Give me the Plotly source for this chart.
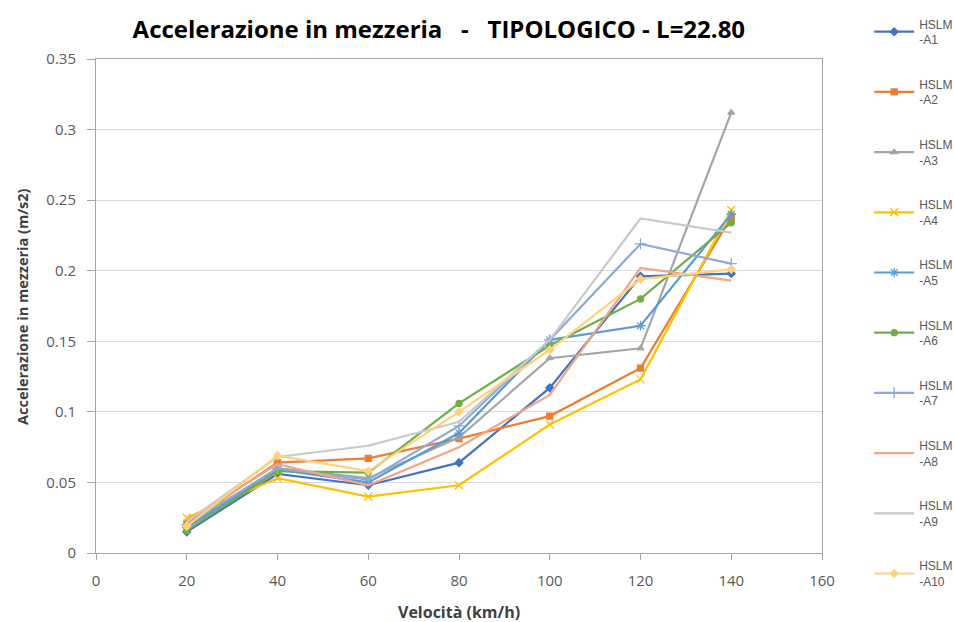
import plotly.graph_objects as go

# Velocità (km/h)
speeds = [20, 40, 60, 80, 100, 120, 140]

# Accelerazione in mezzeria (m/s2) per ciascun treno HSLM
a1 = [0.015, 0.056, 0.048, 0.064, 0.117, 0.196, 0.198]
a2 = [0.021, 0.064, 0.067, 0.081, 0.097, 0.131, 0.238]
a3 = [0.019, 0.060, 0.053, 0.082, 0.138, 0.145, 0.312]
a4 = [0.025, 0.053, 0.040, 0.048, 0.091, 0.123, 0.243]
a5 = [0.018, 0.059, 0.050, 0.085, 0.151, 0.161, 0.240]
a6 = [0.016, 0.058, 0.057, 0.106, 0.147, 0.180, 0.234]
a7 = [0.020, 0.060, 0.052, 0.090, 0.151, 0.219, 0.205]
a8 = [0.023, 0.063, 0.048, 0.075, 0.112, 0.202, 0.193]
a9 = [0.022, 0.068, 0.076, 0.093, 0.151, 0.237, 0.227]
a10 = [0.019, 0.069, 0.058, 0.100, 0.144, 0.194, 0.201]

names = ["HSLM<br>-A1", "HSLM<br>-A2", "HSLM<br>-A3", "HSLM<br>-A4", "HSLM<br>-A5",
         "HSLM<br>-A6", "HSLM<br>-A7", "HSLM<br>-A8", "HSLM<br>-A9", "HSLM<br>-A10"]
series = [a1, a2, a3, a4, a5, a6, a7, a8, a9, a10]

colors = ["#4472C4", "#ED7D31", "#A5A5A5", "#FFC000", "#5B9BD5",
          "#70AD47", "#8EA9DB", "#F4A582", "#C9C9C9", "#FFD27A"]
symbols = ["diamond", "square", "triangle-up", "x-thin-open", "asterisk-open",
           "circle", "cross-thin-open", None, None, "diamond"]
sizes = [6, 6, 6, 8, 8, 6, 8, 0, 0, 6]

yticks = [0, 0.05, 0.1, 0.15, 0.2, 0.25, 0.3, 0.35]
ytext = ["0", "0.05", "0.1", "0.15", "0.2", "0.25", "0.3", "0.35"]
xticks = [0, 20, 40, 60, 80, 100, 120, 140, 160]

fig = go.Figure()
for i, (nm, ys) in enumerate(zip(names, series)):
    marker = dict(color=colors[i], size=sizes[i])
    if symbols[i] is not None:
        marker["symbol"] = symbols[i]
        marker["line"] = dict(color=colors[i], width=1.3)
        mode = "lines+markers"
    else:
        mode = "lines"
    fig.add_trace(go.Scatter(
        x=speeds, y=ys, name=nm, mode=mode,
        line=dict(color=colors[i], width=2.2),
        marker=marker, legendgroup=f"g{i}",
    ))

axis_font = dict(family="Open Sans, sans-serif", size=15, color="#595959")
title_font = dict(family="Open Sans, sans-serif", color="#404040")

fig.update_layout(
    width=954, height=622,
    margin=dict(l=96, r=132, t=59, b=69, autoexpand=False),
    paper_bgcolor="white", plot_bgcolor="white",
    title=dict(text="<b>Accelerazione in mezzeria   -   TIPOLOGICO - L=22.80</b>",
               x=0.46, xanchor="center", y=0.952, yanchor="middle",
               font=dict(family="Open Sans, sans-serif", size=24, color="#000000")),
    legend=dict(x=1.065, xanchor="left", y=1.1, yanchor="top",
                tracegroupgap=26, itemwidth=40, maxheight=620,
                font=dict(family="Liberation Sans, Arial, sans-serif", size=12, color="#595959"),
                bgcolor="rgba(0,0,0,0)"),
    xaxis=dict(range=[0, 160], tickvals=xticks, showgrid=False, automargin=False,
               showline=True, linecolor="#A6A6A6", linewidth=1, mirror=True,
               ticks="outside", ticklen=6, tickcolor="#A6A6A6",
               tickfont=axis_font, zeroline=False, ticklabelstandoff=8),
    yaxis=dict(range=[0, 0.35], tickvals=yticks, ticktext=ytext, automargin=False,
               showgrid=True, gridcolor="#D9D9D9", gridwidth=1,
               showline=True, linecolor="#A6A6A6", linewidth=1, mirror=True,
               ticks="outside", ticklen=8, tickcolor="#A6A6A6",
               tickfont=axis_font, zeroline=False, ticklabelstandoff=8),
    annotations=[
        dict(text="<b>Velocità (km/h)</b>", xref="paper", yref="paper",
             x=0.5, y=-0.12, xanchor="center", yanchor="middle", showarrow=False,
             font=dict(size=16, **title_font)),
        dict(text="<b>Accelerazione in mezzeria (m/s2)</b>", xref="paper", yref="paper",
             x=-0.102, y=0.5, xanchor="center", yanchor="middle", showarrow=False,
             textangle=-90, font=dict(size=14.5, **title_font)),
    ],
)

fig.write_html("out.html")
